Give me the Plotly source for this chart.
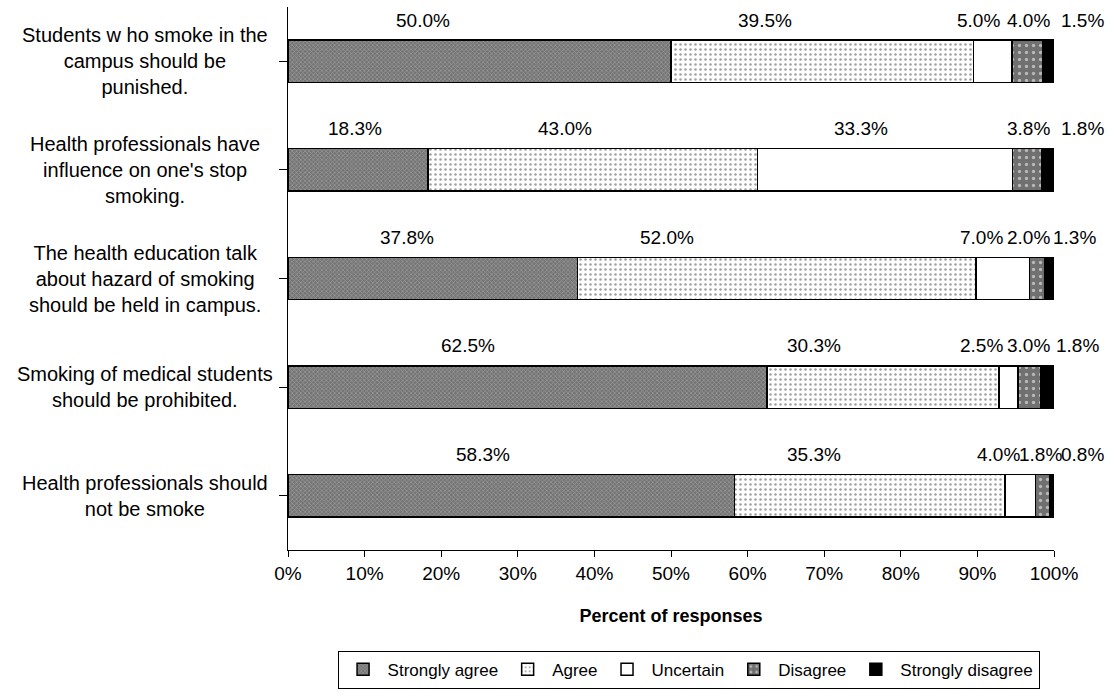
import plotly.graph_objects as go

# Survey statements (top to bottom)
statements = [
    "Students w ho smoke in the<br>campus should be<br>punished.",
    "Health professionals have<br>influence on one's stop<br>smoking.",
    "The health education talk<br>about hazard of smoking<br>should be held in campus.",
    "Smoking of medical students<br>should be prohibited.",
    "Health professionals should<br>not be smoke",
]

# Percent of responses per statement
strongly_agree = [50.0, 18.3, 37.8, 62.5, 58.3]
agree = [39.5, 43.0, 52.0, 30.3, 35.3]
uncertain = [5.0, 33.3, 7.0, 2.5, 4.0]
disagree = [4.0, 3.8, 2.0, 3.0, 1.8]
strongly_disagree = [1.5, 1.8, 1.3, 1.8, 0.8]

series_names = ["Strongly agree", "Agree", "Uncertain", "Disagree", "Strongly disagree"]
x_ticks = list(range(0, 101, 10))

# Horizontal placement of the value labels (in axis percent), one list per row
label_x = [
    [17.6, 62.3, 90.2, 96.7, 103.7],
    [8.7, 36.2, 74.8, 96.7, 103.7],
    [15.5, 49.5, 90.5, 96.7, 102.7],
    [23.5, 68.7, 90.5, 96.7, 103.1],
    [25.4, 68.7, 92.7, 98.2, 103.7],
]

FONT = "Arial, Liberation Sans, sans-serif"

styles = [
    dict(color="#808080", pattern=dict(shape="x", fgcolor="#c4c4c4", bgcolor="#747474", size=3, solidity=0.4)),
    dict(color="white", pattern=dict(shape=".", fgcolor="#404040", bgcolor="white", size=5, solidity=0.2)),
    dict(color="white"),
    dict(color="#6e6e6e", pattern=dict(shape=".", fgcolor="#ffffff", bgcolor="#707070", size=7, solidity=0.18)),
    dict(color="black"),
]

all_series = [strongly_agree, agree, uncertain, disagree, strongly_disagree]
row_ids = list(range(len(statements)))

fig = go.Figure()
for name, vals, st in zip(series_names, all_series, styles):
    marker = dict(color=st["color"], line=dict(color="black", width=1.5))
    if "pattern" in st:
        marker["pattern"] = st["pattern"]
    fig.add_trace(go.Bar(
        y=row_ids, x=vals, name=name, orientation="h",
        marker=marker, width=0.39, hoverinfo="skip",
    ))

annotations = []
# value labels above each bar (paper x so the right-most ones can sit past 100%)
for r in row_ids:
    for s, vals in enumerate(all_series):
        annotations.append(dict(
            x=label_x[r][s] / 100.0, y=r - 0.38, xref="paper", yref="y",
            text=f"{vals[r]:.1f}%", showarrow=False,
            font=dict(family=FONT, size=19, color="black"),
            xanchor="center", yanchor="middle",
        ))
# statement labels, centred lines
for r, txt in enumerate(statements):
    annotations.append(dict(
        x=-0.187, y=r, xref="paper", yref="y", text=txt, showarrow=False,
        align="center", xanchor="center", yanchor="middle",
        font=dict(family=FONT, size=20, color="black"),
    ))

fig.update_layout(
    width=1116, height=696,
    margin=dict(l=288, r=62, t=7, b=146),
    paper_bgcolor="white", plot_bgcolor="white",
    barmode="stack", bargap=0.61,
    font=dict(family=FONT, size=19, color="black"),
    xaxis=dict(
        range=[0, 100], tickvals=x_ticks, ticktext=[f"{t}%" for t in x_ticks],
        showgrid=False, zeroline=False, showline=True, linecolor="black", linewidth=1,
        ticks="outside", ticklen=6, tickcolor="black",
        tickfont=dict(family=FONT, size=19),
        title=dict(text="<b>Percent of responses</b>", standoff=26,
                   font=dict(family=FONT, size=18)),
    ),
    yaxis=dict(
        range=[4.5, -0.5], tickmode="array", tickvals=row_ids, ticktext=[""] * 5,
        tickson="boundaries", ticks="outside", ticklen=8, tickcolor="black",
        showgrid=False, zeroline=False, showline=True, linecolor="black", linewidth=1,
    ),
    legend=dict(
        orientation="h", xref="container", yref="container",
        x=0.617, y=0.065, xanchor="center", yanchor="top",
        bordercolor="black", borderwidth=1,
        font=dict(family=FONT, size=17), traceorder="normal",
        itemwidth=39,
    ),
    annotations=annotations,
    showlegend=True,
)

fig.write_html("out.html")
